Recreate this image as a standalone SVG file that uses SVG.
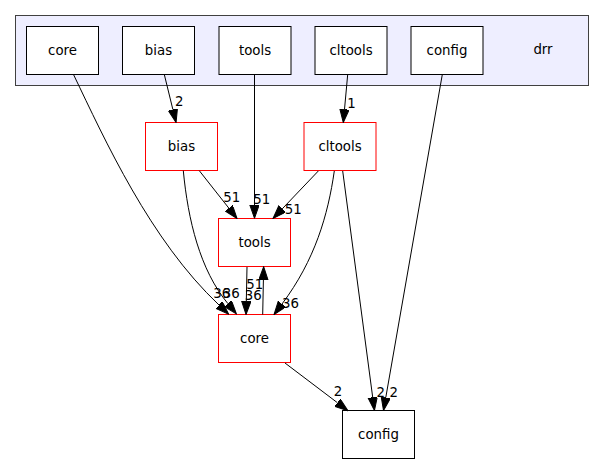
<svg xmlns="http://www.w3.org/2000/svg" width="605" height="464" viewBox="0 0 605 464">
<style>
  .cluster { fill: #eeeeff; stroke: #404040; stroke-width: 1; }
  .node rect { fill: #ffffff; stroke: #000000; stroke-width: 1; }
  .node.red rect { stroke: #ff0000; }
  text { font-family: "DejaVu Sans", "Liberation Sans", sans-serif; font-size: 13.33px; fill: #000000; text-anchor: middle; }
  .edge { fill: none; stroke: #000000; stroke-width: 1; marker-end: url(#arrow); }
</style>
<defs>
  <marker id="arrow" markerUnits="userSpaceOnUse" markerWidth="14" markerHeight="10" refX="0" refY="4.67" orient="auto" viewBox="0 0 14 10">
    <path d="M0,0 L13.3,4.67 L0,9.33 Z" fill="#000000" stroke="#000000" stroke-width="1"/>
  </marker>
</defs>
<rect width="605" height="464" fill="#ffffff"/>
<g id="cluster_drr">
  <rect class="cluster" x="15.5" y="15.5" width="573" height="70"/>
  <text x="543" y="53.5">drr</text>
</g>
<g id="dir_core_top" class="node">
  <rect x="26.5" y="26.5" width="72" height="48"/>
  <text x="62.5" y="54.5">core</text>
</g>
<g id="dir_bias_top" class="node">
  <rect x="122.5" y="26.5" width="72" height="48"/>
  <text x="158.5" y="54.5">bias</text>
</g>
<g id="dir_tools_top" class="node">
  <rect x="219" y="26.5" width="72" height="48"/>
  <text x="255" y="54.5">tools</text>
</g>
<g id="dir_cltools_top" class="node">
  <rect x="315" y="26.5" width="72" height="48"/>
  <text x="351" y="54.5">cltools</text>
</g>
<g id="dir_config_top" class="node">
  <rect x="411" y="26.5" width="72" height="48"/>
  <text x="447" y="54.5">config</text>
</g>
<g id="dir_bias" class="node red">
  <rect x="145.5" y="122.5" width="72" height="48"/>
  <text x="181.5" y="150.5">bias</text>
</g>
<g id="dir_cltools" class="node red">
  <rect x="304" y="122.5" width="72" height="48"/>
  <text x="340" y="150.5">cltools</text>
</g>
<g id="dir_tools" class="node red">
  <rect x="218.5" y="218.5" width="72" height="48"/>
  <text x="254.5" y="246.5">tools</text>
</g>
<g id="dir_core" class="node red">
  <rect x="218.5" y="314.5" width="72" height="48"/>
  <text x="254.5" y="342.5">core</text>
</g>
<g id="dir_config" class="node">
  <rect x="342.5" y="410.5" width="72" height="48"/>
  <text x="378.5" y="438.5">config</text>
</g>
<g id="connectors">
  <path class="edge" d="M164.3,74.5 L172.9,109.6"/>
  <text x="179.3" y="106.3">2</text>
  <path class="edge" d="M254.5,74.5 L254.5,205"/>
  <text x="261.7" y="204">51</text>
  <path class="edge" d="M347.7,74.5 L344.5,109.3"/>
  <text x="351.5" y="108">1</text>
  <path class="edge" d="M442.3,74.5 L385.8,397.4"/>
  <text x="393.7" y="396.5">2</text>
  <path class="edge" d="M73.5,74.5 C105,140 150,240 219,305"/>
  <text x="221.7" y="298.3">36</text>
  <path class="edge" d="M199.3,170.7 L228.8,208.1"/>
  <text x="231.7" y="201.7">51</text>
  <path class="edge" d="M183.3,170.7 C188,220 200,270 227.9,303.6"/>
  <text x="231.3" y="298.3">36</text>
  <path class="edge" d="M318.3,171 L282.2,208.9"/>
  <text x="293.3" y="214.3">51</text>
  <path class="edge" d="M334.3,171 C328,215 315,260 282,304"/>
  <text x="290.5" y="308.3">36</text>
  <path class="edge" d="M342.7,171 L372.7,397.3"/>
  <text x="380.7" y="396.5">2</text>
  <path class="edge" d="M247,267 L246.3,301.2"/>
  <text x="253.3" y="300">36</text>
  <path class="edge" d="M262.7,314.5 L263.4,280"/>
  <text x="254.7" y="289.3">51</text>
  <path class="edge" d="M285,363 L337.4,402.7"/>
  <text x="338" y="396">2</text>
</g>
</svg>
